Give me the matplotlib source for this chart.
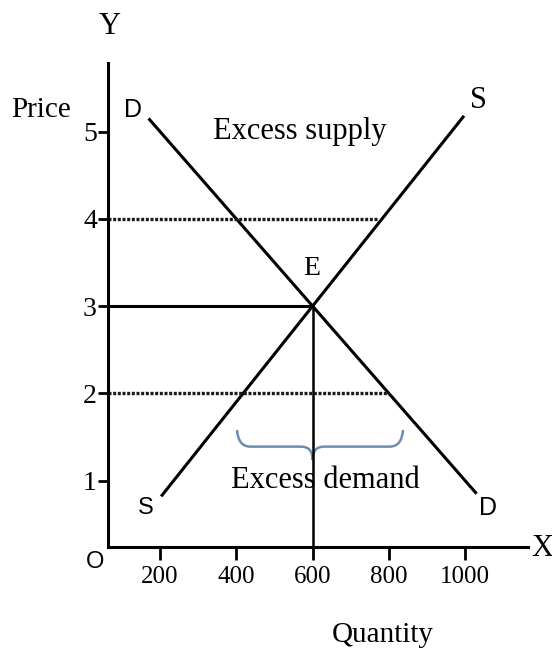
import matplotlib.pyplot as plt
from matplotlib.path import Path
from matplotlib.patches import PathPatch

# data
qty_ticks = [200, 400, 600, 800, 1000]
price_ticks = [1, 2, 3, 4, 5]
demand_q = [170, 1030]
demand_p = [5.15, 0.85]
supply_q = [203, 997]
supply_p = [0.82, 5.18]
eq_q, eq_p = 600, 3
surplus_price, surplus_end = 4, 770
shortage_price, shortage_end = 2, 800
brace_left, brace_right = 402, 837

W, H = 552, 654
def px(x, y):
    return x / W, 1 - y / H

fig = plt.figure(figsize=(W / 100, H / 100), dpi=100)
ax = fig.add_axes([108 / W, 107 / H, 420 / W, 484 / H])
x0, x1 = 63.7, 1164.7
y0, y1 = 0.24, 5.785
ax.set_xlim(x0, x1)
ax.set_ylim(y0, y1)

for s in ['top', 'right']:
    ax.spines[s].set_visible(False)
for s in ['left', 'bottom']:
    ax.spines[s].set_linewidth(2.2)

serif = 'Liberation Serif'
sans = 'Liberation Sans'

ax.set_xticks(qty_ticks)
ax.set_yticks(price_ticks)
ax.tick_params(axis='x', direction='out', length=9, width=2, pad=5, labelsize=18)
ax.tick_params(axis='y', direction='out', length=7, width=2, pad=1, labelsize=20)
for lab in ax.get_xticklabels() + ax.get_yticklabels():
    lab.set_fontfamily(serif)

# curves
ax.plot(demand_q, demand_p, color='black', lw=2.2, solid_capstyle='butt')
ax.plot(supply_q, supply_p, color='black', lw=2.2, solid_capstyle='butt')

# equilibrium guides
ax.hlines(eq_p, x0, eq_q, color='black', lw=2.2)
ax.vlines(eq_q, y0, eq_p, color='black', lw=1.8)

# excess supply / demand lines
ax.hlines(surplus_price, x0, surplus_end, color='#1a1a1a', lw=2.4, linestyles=(0, (0.9, 0.5)))
ax.hlines(shortage_price, x0, shortage_end, color='#1a1a1a', lw=2.4, linestyles=(0, (0.9, 0.5)))

# brace under excess demand gap
yt, ym, yb = 1.58, 1.39, 1.24
mid = eq_q
verts = [(brace_left, yt), (brace_left + 3, ym), (brace_left + 35, ym),
         (mid - 30, ym),
         (mid, ym), (mid, yb),
         (mid, ym), (mid + 30, ym),
         (brace_right - 35, ym),
         (brace_right - 3, ym), (brace_right, yt)]
codes = [Path.MOVETO, Path.CURVE3, Path.CURVE3,
         Path.LINETO,
         Path.CURVE3, Path.CURVE3,
         Path.CURVE3, Path.CURVE3,
         Path.LINETO,
         Path.CURVE3, Path.CURVE3]
ax.add_patch(PathPatch(Path(verts, codes), fill=False, edgecolor='#6f8db3', lw=1.8))

# labels
fig.text(*px(110, 27), 'Y', ha='center', va='center', fontsize=22, family=serif)
fig.text(*px(41, 110), 'Price', ha='center', va='center', fontsize=21, family=serif)
fig.text(*px(133, 110), 'D', ha='center', va='center', fontsize=18, family=sans)
fig.text(*px(478, 100), 'S', ha='center', va='center', fontsize=22, family=serif)
fig.text(*px(300, 131), 'Excess supply', ha='center', va='center', fontsize=22, family=serif)
fig.text(*px(312, 268), 'E', ha='center', va='center', fontsize=20, family=serif)
fig.text(*px(325, 480), 'Excess demand', ha='center', va='center', fontsize=22, family=serif)
fig.text(*px(146, 508), 'S', ha='center', va='center', fontsize=17, family=sans)
fig.text(*px(488, 508), 'D', ha='center', va='center', fontsize=18, family=sans)
fig.text(*px(95, 562), 'O', ha='center', va='center', fontsize=17, family=sans)
fig.text(*px(542, 548), 'X', ha='center', va='center', fontsize=22, family=serif)
fig.text(*px(383, 635), 'Quantity', ha='center', va='center', fontsize=21, family=serif)

plt.savefig('out.png', dpi=100)
